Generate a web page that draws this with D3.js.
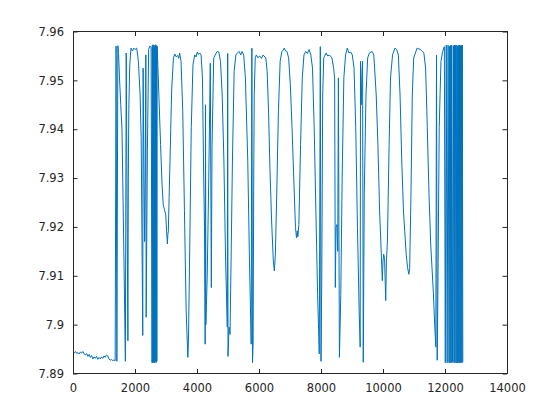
<!DOCTYPE html>
<html>
<head>
<meta charset="utf-8">
<script src="https://cdn.jsdelivr.net/npm/d3@7"></script>
<style>
  html, body { margin: 0; padding: 0; background: #fff; }
  svg { display: block; }
  .tick text { font-family: "DejaVu Sans", sans-serif; font-size: 11.5px; fill: #262626; }
</style>
</head>
<body>
<svg id="chart" width="560" height="420"></svg>
<script>
// ---- data ----
const xValues = [
  0,40,80,120,160,200,240,280,320,360,400,440,480,520,560,600,640,680,720,760,800,840,880,920,960,1000,1040,1080,1120,1160,1200,1240,1280,1320,1360,
  1390,1415,1447,1470,1500,1540,1580,1640,1690,1717,1740,1771,1785,1800,1830,1870,1920,1960,2000,2055,2110,2165,2200,2250,2262,2290,2310,2330,2350,2360,2400,2440,2480,2520,
  2550,2560,2575,2585,2600,2612,2625,2640,2655,2668,2680,2695,2705,2715,
  2770,2825,2870,2910,2950,2990,3020,3045,3060,3075,3100,3130,3160,3185,3240,3285,3330,3375,3410,3440,3485,3540,3595,3650,3705,3725,3760,3815,3870,3925,3970,4010,4050,4090,
  4132,4176,4209,4242,4264,4275,4286,4330,4380,4429,4462,4484,4539,4590,4648,4703,4758,4813,4868,4923,4978,4990,5000,5033,5066,5099,5143,5198,5253,5300,5363,5410,5451,5506,5561,5638,5693,5748,5770,5790,5810,5830,5846,5879,5912,5967,6020,6080,6132,
  6220,6264,6308,6352,6407,6462,6495,6528,6572,6627,6682,6737,6780,6813,6860,6901,6956,7011,7066,7121,7176,7209,7235,7253,7286,7341,7396,7451,7506,7560,7616,7671,7726,7780,7835,7890,7945,7978,8000,8025,8055,8088,8165,8220,8275,
  8352,8407,8440,8462,8484,8517,8540,8561,8594,8638,8682,8737,8792,8847,8901,8960,9011,9066,9121,9176,9231,9264,9275,9297,9319,9341,9363,9396,9451,9506,9561,9649,9704,9781,9836,9891,9978,10000,10022,10050,10088,10110,10143,10198,10242,10308,10385,
  10440,10495,10550,10605,10660,10748,10792,10835,10860,10902,10945,10990,11100,11209,11319,11374,11429,11484,11539,11627,11671,11704,11726,11748,11770,11814,11869,11924,11979,
  12010,12040,12070,12100,12130,12150,12165,12185,12200,12215,12240,12270,12290,12305,12320,12335,12360,12380,12395,12410,12425,12440,12455,12470,12485,12500,12515,12530,12545,12560,12575
];
const yValues = [
  7.8944,7.8942,7.8945,7.8941,7.8943,7.8940,7.8944,7.8942,7.8945,7.8940,7.8938,7.8941,7.8935,7.8939,7.8933,7.8937,7.8930,7.8934,7.8931,7.8935,7.8929,7.8933,7.8930,7.8934,7.8931,7.8936,7.8933,7.8938,7.8936,7.8930,7.8927,7.8929,7.8926,7.8928,7.8926,
  7.9570,7.8925,7.9571,7.9555,7.9505,7.9450,7.9400,7.9150,7.8925,7.9556,7.9300,7.8967,7.9300,7.9440,7.9530,7.9566,7.9560,7.9566,7.9563,7.9566,7.9539,7.9470,7.9380,7.8978,7.9525,7.9300,7.9170,7.9300,7.9552,7.9015,7.9355,7.9563,7.9570,7.9568,
  7.8922,7.9572,7.8922,7.9573,7.8923,7.9570,7.8922,7.9572,7.8924,7.9573,7.8922,7.9571,7.8925,7.9570,
  7.9470,7.9369,7.9290,7.9246,7.9235,7.9226,7.9190,7.9165,7.9185,7.9190,7.9260,7.9335,7.9420,7.9484,7.9546,7.9554,7.9548,7.9551,7.9545,7.9556,7.9539,7.9437,7.9233,7.9029,7.8933,7.8967,7.9130,7.9403,7.9532,7.9552,7.9548,7.9558,7.9553,7.9556,
  7.9552,7.9505,7.9335,7.9199,7.8960,7.9450,7.9000,7.9100,7.9300,7.9535,7.9076,7.9362,7.9546,7.9552,7.9559,7.9558,7.9539,7.9470,7.9335,7.9130,7.8995,7.9555,7.8935,7.8995,7.8980,7.9130,7.9335,7.9518,7.9552,7.9556,7.9559,7.9552,7.9559,7.9552,7.9505,7.9335,7.9130,7.8960,7.9566,7.8922,7.8960,7.9300,7.9470,7.9546,7.9552,7.9546,7.9550,7.9545,7.9552,
  7.9546,7.9518,7.9437,7.9321,7.9212,7.9130,7.9110,7.9144,7.9267,7.9437,7.9539,7.9559,7.9562,7.9566,7.9560,7.9559,7.9546,7.9491,7.9403,7.9300,7.9199,7.9178,7.9192,7.9180,7.9205,7.9369,7.9505,7.9552,7.9559,7.9555,7.9563,7.9552,7.9525,7.9403,7.9233,7.9063,7.8940,7.9569,7.8925,7.9100,7.9470,7.9546,7.9556,7.9550,7.9552,
  7.9546,7.9525,7.9505,7.9076,7.9199,7.9205,7.9150,7.9505,7.8933,7.9060,7.9300,7.9505,7.9552,7.9566,7.9556,7.9558,7.9552,7.9525,7.9403,7.9199,7.9029,7.8954,7.9539,7.9450,7.9512,7.9539,7.8923,7.9267,7.9470,7.9546,7.9556,7.9559,7.9552,7.9470,7.9369,7.9233,7.9090,7.9130,7.9144,7.9135,7.9049,7.9130,7.9171,7.9369,7.9505,7.9552,7.9566,
  7.9563,7.9552,7.9470,7.9335,7.9233,7.9144,7.9117,7.9103,7.9115,7.9267,7.9470,7.9546,7.9566,7.9563,7.9556,7.9525,7.9403,7.9267,7.9165,7.9063,7.8995,7.8954,7.9552,7.8927,7.9060,7.9403,7.9539,7.9559,7.9569,
  7.8922,7.9572,7.8922,7.9572,7.8922,7.9570,7.8922,7.9572,7.8922,7.9572,7.8923,7.9571,7.8922,7.9572,7.8922,7.9572,7.8922,7.9572,7.8922,7.9570,7.8922,7.9572,7.8922,7.9572,7.8922,7.9571,7.8922,7.9572,7.8922,7.9572,7.8923
];
const xTicks = [0,2000,4000,6000,8000,10000,12000,14000];
const yTicks = [7.89,7.90,7.91,7.92,7.93,7.94,7.95,7.96];
const yTickLabels = ["7.89","7.9","7.91","7.92","7.93","7.94","7.95","7.96"];

// ---- layout ----
const padLeft = 73, padRight = 507, padTop = 31.5, padBottom = 373.5;
const svg = d3.select("#chart");
const x = d3.scaleLinear().domain([0, 14000]).range([padLeft, padRight]);
const y = d3.scaleLinear().domain([7.89, 7.96]).range([padBottom, padTop]);

const data = xValues.map((v, i) => [v, yValues[i]]);

const line = d3.line().x(d => x(d[0])).y(d => y(d[1]));
svg.append("path")
  .datum(data)
  .attr("fill", "none")
  .attr("stroke", "#0072BD")
  .attr("stroke-width", 1)
  .attr("stroke-linejoin", "round")
  .attr("d", line);

const tickLen = 4.5;
const axisColor = "#262626";

function styleAxis(g) {
  g.select(".domain").remove();
  g.selectAll(".tick line").attr("stroke", axisColor).attr("stroke-width", 1);
}

svg.append("g")
  .attr("transform", `translate(0,${padBottom})`)
  .call(d3.axisBottom(x).tickValues(xTicks).tickFormat(d3.format("d")).tickSizeInner(-tickLen).tickSizeOuter(0).tickPadding(10))
  .call(styleAxis);
svg.append("g")
  .attr("transform", `translate(0,${padTop})`)
  .call(d3.axisTop(x).tickValues(xTicks).tickFormat("").tickSizeInner(-tickLen).tickSizeOuter(0))
  .call(styleAxis);
svg.append("g")
  .attr("transform", `translate(${padLeft},0)`)
  .call(d3.axisLeft(y).tickValues(yTicks).tickFormat((d, i) => yTickLabels[i]).tickSizeInner(-tickLen).tickSizeOuter(0).tickPadding(9))
  .call(styleAxis);
svg.append("g")
  .attr("transform", `translate(${padRight},0)`)
  .call(d3.axisRight(y).tickValues(yTicks).tickFormat("").tickSizeInner(-tickLen).tickSizeOuter(0))
  .call(styleAxis);

svg.append("rect")
  .attr("x", padLeft).attr("y", padTop)
  .attr("width", padRight - padLeft).attr("height", padBottom - padTop)
  .attr("fill", "none")
  .attr("stroke", axisColor)
  .attr("stroke-width", 1)
  .attr("shape-rendering", "crispEdges");
</script>
</body>
</html>
